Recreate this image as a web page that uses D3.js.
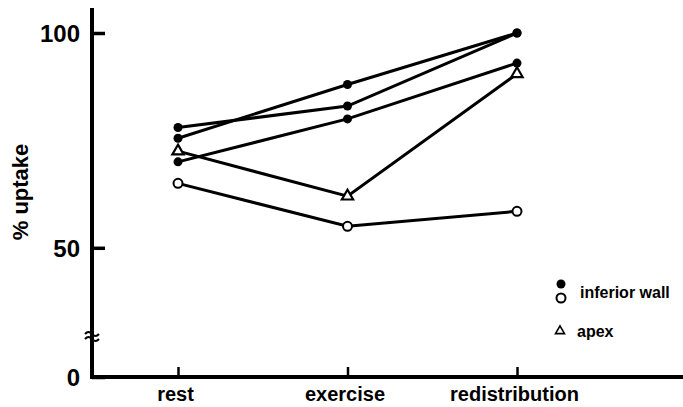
<!DOCTYPE html>
<html>
<head>
<meta charset="utf-8">
<script src="https://cdn.jsdelivr.net/npm/d3@7"></script>
<style>
  body { margin: 0; background: #fff; }
  text { font-family: "Liberation Sans", Arial, sans-serif; font-weight: bold; fill: #000; }
</style>
</head>
<body>
<div id="chart"></div>
<script>
// stages on the x axis
const categories = ["rest", "exercise", "redistribution"];
const yTicks = [0, 50, 100];

// inferior wall, filled markers
const filledA = [78, 83, 100];
const filledB = [75.5, 88, 100];
const filledC = [70, 80, 93];
// inferior wall, open markers
const openSeries = [65, 55, 58.5];
// apex, triangles
const apexSeries = [72.5, 62, 90.5];

const series = [
  { values: filledA, kind: "filled" },
  { values: filledB, kind: "filled" },
  { values: filledC, kind: "filled" },
  { values: apexSeries, kind: "apex" },
  { values: openSeries, kind: "open" }
];

const width = 683, height = 407;

const svg = d3.select("#chart").append("svg")
  .attr("width", width)
  .attr("height", height);

const x = d3.scalePoint()
  .domain(categories)
  .range([178, 517]);

// broken axis: 0..29 squeezed below the break
const y = d3.scaleLinear()
  .domain([0, 29, 100])
  .range([377, 338, 33]);

const axisX = 92;

// axes
svg.append("g")
  .attr("transform", `translate(${axisX},0)`)
  .call(d3.axisLeft(y).tickValues(yTicks).tickSize(-13).tickPadding(12).tickSizeOuter(0))
  .call(g => g.select(".domain").remove())
  .call(g => g.selectAll(".tick line").attr("stroke", "#000").attr("stroke-width", 3.5))
  .call(g => g.selectAll(".tick text").style("font-size", "24px").attr("dy", "0.36em"));

svg.append("g")
  .attr("transform", `translate(0,${y(0)})`)
  .call(d3.axisBottom(x).tickSize(-10).tickPadding(10).tickSizeOuter(0))
  .call(g => g.select(".domain").remove())
  .call(g => g.selectAll(".tick line").attr("stroke", "#000").attr("stroke-width", 2.5))
  .call(g => g.selectAll(".tick text").style("font-size", "20px").attr("dx", "-3"));

svg.append("line")
  .attr("x1", axisX).attr("x2", axisX)
  .attr("y1", 8).attr("y2", y(0) + 2)
  .attr("stroke", "#000").attr("stroke-width", 4);

svg.append("line")
  .attr("x1", axisX - 2).attr("x2", width)
  .attr("y1", y(0)).attr("y2", y(0))
  .attr("stroke", "#000").attr("stroke-width", 4);

// axis break mark
const breakY = y(29) - 2;
[-3, 2].forEach(off => {
  svg.append("path")
    .attr("d", `M${axisX - 7},${breakY + off + 1} q3.5,-4 7,0 t7,0`)
    .attr("fill", "none")
    .attr("stroke", "#000")
    .attr("stroke-width", 2);
});

svg.append("text")
  .attr("transform", "translate(28,192) rotate(-90)")
  .attr("text-anchor", "middle")
  .style("font-size", "22px")
  .text("% uptake");

// lines
const line = d3.line()
  .x((d, i) => x(categories[i]))
  .y(d => y(d));

svg.selectAll("path.trend")
  .data(series)
  .join("path")
  .attr("class", "trend")
  .attr("d", d => line(d.values))
  .attr("fill", "none")
  .attr("stroke", "#000")
  .attr("stroke-width", 3);

function drawMarker(sel, kind, size) {
  if (kind === "filled") {
    sel.append("circle").attr("r", 4.5).attr("fill", "#000");
  } else if (kind === "open") {
    sel.append("circle").attr("r", 4.5).attr("fill", "#fff")
      .attr("stroke", "#000").attr("stroke-width", 2);
  } else {
    sel.append("path").attr("d", d3.symbol(d3.symbolTriangle, size || 55)())
      .attr("fill", "#fff").attr("stroke", "#000").attr("stroke-width", size ? 1.6 : 2.2);
  }
}

series.forEach(s => {
  svg.append("g").selectAll("g")
    .data(s.values)
    .join("g")
    .attr("transform", (d, i) => `translate(${x(categories[i])},${y(d)})`)
    .each(function () { drawMarker(d3.select(this), s.kind); });
});

// legend
const legend = svg.append("g").attr("transform", "translate(561,0)");
drawMarker(legend.append("g").attr("transform", "translate(0,284)"), "filled");
drawMarker(legend.append("g").attr("transform", "translate(0,298)"), "open");
drawMarker(legend.append("g").attr("transform", "translate(-1,331)"), "apex", 35);

legend.append("text").attr("x", 19).attr("y", 298)
  .style("font-size", "16px").text("inferior wall");
legend.append("text").attr("x", 16).attr("y", 337)
  .style("font-size", "16px").text("apex");
</script>
</body>
</html>
